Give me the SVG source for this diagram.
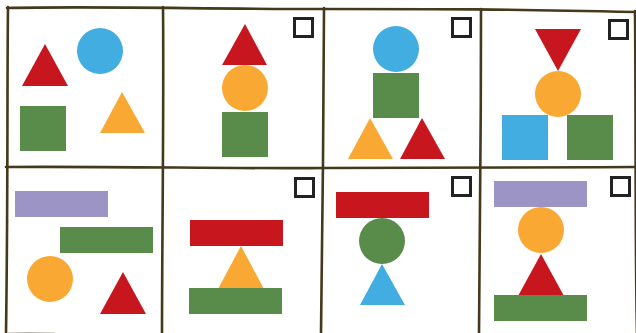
<svg xmlns="http://www.w3.org/2000/svg" width="636" height="333" viewBox="0 0 636 333">
<style>
.grid{fill:none;stroke:#45391b;stroke-width:2.6;stroke-linecap:round}
.cb{fill:#fff;stroke:#222;stroke-width:3}
.r{fill:#C8161F}.b{fill:#42ADE1}.o{fill:#F9A933}.g{fill:#598B4A}.p{fill:#9B94C4}
</style>
<rect width="636" height="333" fill="#fff"/>
<g id="grid">
<path class="grid" d="M7,8 C100,6 200,9 324,9 S500,9 636,12"/>
<path class="grid" d="M6,167 C100,166 250,169 324,168 S520,168 636,167"/>
<path d="M8,333 C20,332.5 35,332.5 55,333" fill="none" stroke="#b8b3a8" stroke-width="1.2"/>
<path class="grid" d="M8,7 C7,100 8,200 6,333"/>
<path class="grid" d="M163,7 C164,100 162,250 162,333"/>
<path class="grid" d="M324,8 C324,100 322,250 321,333"/>
<path class="grid" d="M481,9 C481,120 480,250 479,333"/>
<path class="grid" d="M635,11 C636,100 635,250 637,333"/>
</g>
<g id="panel1">
<polygon class="r" points="45,44 22,86 68,86"/>
<circle class="b" cx="100" cy="51" r="23"/>
<rect class="g" x="20" y="106" width="46" height="45"/>
<polygon class="o" points="122,92 100,133 145,133"/>
</g>
<g id="panel2">
<rect class="cb" x="294.5" y="18.5" width="18" height="18"/>
<polygon class="r" points="245,24 222,65 267,65"/>
<circle class="o" cx="245" cy="88" r="23"/>
<rect class="g" x="222" y="112" width="46" height="45"/>
</g>
<g id="panel3">
<rect class="cb" x="452.5" y="18.5" width="18" height="18"/>
<circle class="b" cx="396" cy="49" r="23"/>
<rect class="g" x="373" y="73" width="46" height="45"/>
<polygon class="o" points="370,118 348,159 393,159"/>
<polygon class="r" points="422,118 400,159 445,159"/>
</g>
<g id="panel4">
<rect class="cb" x="609.5" y="20.5" width="18" height="18"/>
<polygon class="r" points="535,29 581,29 558,71"/>
<circle class="o" cx="558" cy="94" r="23"/>
<rect class="b" x="502" y="115" width="46" height="45"/>
<rect class="g" x="567" y="115" width="46" height="45"/>
</g>
<g id="panel5">
<rect class="p" x="15" y="191" width="93" height="26"/>
<rect class="g" x="60" y="227" width="93" height="26"/>
<circle class="o" cx="50" cy="279" r="23"/>
<polygon class="r" points="123,272 100,314 146,314"/>
</g>
<g id="panel6">
<rect class="cb" x="295.5" y="178.5" width="18" height="18"/>
<rect class="r" x="190" y="220" width="93" height="26"/>
<polygon class="o" points="241,246 218,289 264,289"/>
<rect class="g" x="189" y="288" width="93" height="26"/>
</g>
<g id="panel7">
<rect class="cb" x="452.5" y="177.5" width="18" height="18"/>
<rect class="r" x="336" y="192" width="93" height="26"/>
<circle class="g" cx="382" cy="241" r="23"/>
<polygon class="b" points="382,264 360,305 405,305"/>
</g>
<g id="panel8">
<rect class="cb" x="611.5" y="177.5" width="18" height="18"/>
<rect class="p" x="494" y="181" width="93" height="26"/>
<circle class="o" cx="541" cy="230" r="23"/>
<polygon class="r" points="541,254 518,296 564,296"/>
<rect class="g" x="494" y="295" width="93" height="26"/>
</g>
</svg>
